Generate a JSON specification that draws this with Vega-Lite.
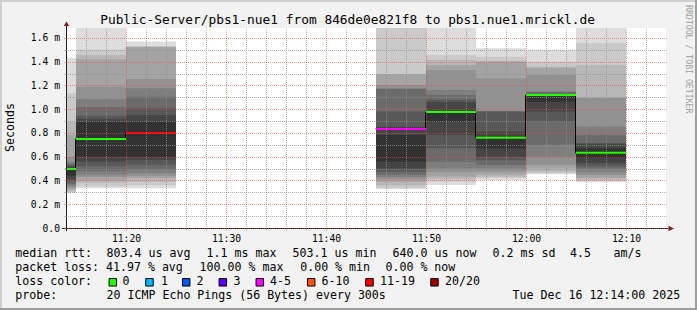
{
"$schema": "https://vega.github.io/schema/vega-lite/v6.json",
"width": 600,
"height": 200,
"autosize": "none",
"padding": {"left": 66, "top": 28, "right": 31, "bottom": 82},
"background": "#f2f2f2",
"config": {
  "view": {"stroke": null, "fill": "#ffffff"},
  "font": "DejaVu Sans Mono",
  "axis": {"labelFont": "DejaVu Sans Mono", "titleFont": "DejaVu Sans Mono", "labelColor": "#000000", "titleColor": "#000000"},
  "text": {"font": "DejaVu Sans Mono"}
},
"title": {"text": "Public-Server/pbs1-nue1 from 846de0e821f8 to pbs1.nue1.mrickl.de", "font": "DejaVu Sans Mono", "fontSize": 12.85, "fontWeight": "normal", "color": "#000000", "anchor": "middle", "frame": "group", "baseline": "alphabetic", "offset": -38, "dx": -18.4},
"datasets": {
  "smoke": [
    {"t":"2025-12-16T11:14:00Z","t2":"2025-12-16T11:15:00Z","b":1,"lo":0.292,"hi":1.434},
    {"t":"2025-12-16T11:14:00Z","t2":"2025-12-16T11:15:00Z","b":2,"lo":0.30,"hi":1.134},
    {"t":"2025-12-16T11:14:00Z","t2":"2025-12-16T11:15:00Z","b":3,"lo":0.31,"hi":0.895},
    {"t":"2025-12-16T11:14:00Z","t2":"2025-12-16T11:15:00Z","b":4,"lo":0.325,"hi":0.783},
    {"t":"2025-12-16T11:14:00Z","t2":"2025-12-16T11:15:00Z","b":5,"lo":0.34,"hi":0.60},
    {"t":"2025-12-16T11:14:00Z","t2":"2025-12-16T11:15:00Z","b":6,"lo":0.355,"hi":0.558},
    {"t":"2025-12-16T11:14:00Z","t2":"2025-12-16T11:15:00Z","b":7,"lo":0.37,"hi":0.54},
    {"t":"2025-12-16T11:14:00Z","t2":"2025-12-16T11:15:00Z","b":8,"lo":0.39,"hi":0.53},
    {"t":"2025-12-16T11:14:00Z","t2":"2025-12-16T11:15:00Z","b":9,"lo":0.41,"hi":0.515},
    {"t":"2025-12-16T11:14:00Z","t2":"2025-12-16T11:15:00Z","b":10,"lo":0.44,"hi":0.50},
    {"t":"2025-12-16T11:15:00Z","t2":"2025-12-16T11:20:00Z","b":1,"lo":0.335,"hi":1.75},
    {"t":"2025-12-16T11:15:00Z","t2":"2025-12-16T11:20:00Z","b":2,"lo":0.35,"hi":1.50},
    {"t":"2025-12-16T11:15:00Z","t2":"2025-12-16T11:20:00Z","b":3,"lo":0.38,"hi":1.457},
    {"t":"2025-12-16T11:15:00Z","t2":"2025-12-16T11:20:00Z","b":4,"lo":0.40,"hi":1.42},
    {"t":"2025-12-16T11:15:00Z","t2":"2025-12-16T11:20:00Z","b":5,"lo":0.43,"hi":1.19},
    {"t":"2025-12-16T11:15:00Z","t2":"2025-12-16T11:20:00Z","b":6,"lo":0.45,"hi":1.086},
    {"t":"2025-12-16T11:15:00Z","t2":"2025-12-16T11:20:00Z","b":7,"lo":0.48,"hi":1.016},
    {"t":"2025-12-16T11:15:00Z","t2":"2025-12-16T11:20:00Z","b":8,"lo":0.52,"hi":0.946},
    {"t":"2025-12-16T11:15:00Z","t2":"2025-12-16T11:20:00Z","b":9,"lo":0.56,"hi":0.92},
    {"t":"2025-12-16T11:15:00Z","t2":"2025-12-16T11:20:00Z","b":10,"lo":0.60,"hi":0.895},
    {"t":"2025-12-16T11:20:00Z","t2":"2025-12-16T11:25:00Z","b":1,"lo":0.335,"hi":1.57},
    {"t":"2025-12-16T11:20:00Z","t2":"2025-12-16T11:25:00Z","b":2,"lo":0.36,"hi":1.527},
    {"t":"2025-12-16T11:20:00Z","t2":"2025-12-16T11:25:00Z","b":3,"lo":0.39,"hi":1.527},
    {"t":"2025-12-16T11:20:00Z","t2":"2025-12-16T11:25:00Z","b":4,"lo":0.42,"hi":1.527},
    {"t":"2025-12-16T11:20:00Z","t2":"2025-12-16T11:25:00Z","b":5,"lo":0.44,"hi":1.255},
    {"t":"2025-12-16T11:20:00Z","t2":"2025-12-16T11:25:00Z","b":6,"lo":0.46,"hi":1.176},
    {"t":"2025-12-16T11:20:00Z","t2":"2025-12-16T11:25:00Z","b":7,"lo":0.49,"hi":1.106},
    {"t":"2025-12-16T11:20:00Z","t2":"2025-12-16T11:25:00Z","b":8,"lo":0.53,"hi":1.008},
    {"t":"2025-12-16T11:20:00Z","t2":"2025-12-16T11:25:00Z","b":9,"lo":0.575,"hi":0.95},
    {"t":"2025-12-16T11:20:00Z","t2":"2025-12-16T11:25:00Z","b":10,"lo":0.60,"hi":0.895},
    {"t":"2025-12-16T11:45:00Z","t2":"2025-12-16T11:50:00Z","b":1,"lo":0.33,"hi":1.75},
    {"t":"2025-12-16T11:45:00Z","t2":"2025-12-16T11:50:00Z","b":2,"lo":0.333,"hi":1.75},
    {"t":"2025-12-16T11:45:00Z","t2":"2025-12-16T11:50:00Z","b":3,"lo":0.36,"hi":1.294},
    {"t":"2025-12-16T11:45:00Z","t2":"2025-12-16T11:50:00Z","b":4,"lo":0.39,"hi":1.294},
    {"t":"2025-12-16T11:45:00Z","t2":"2025-12-16T11:50:00Z","b":5,"lo":0.41,"hi":1.204},
    {"t":"2025-12-16T11:45:00Z","t2":"2025-12-16T11:50:00Z","b":6,"lo":0.43,"hi":1.176},
    {"t":"2025-12-16T11:45:00Z","t2":"2025-12-16T11:50:00Z","b":7,"lo":0.45,"hi":1.17},
    {"t":"2025-12-16T11:45:00Z","t2":"2025-12-16T11:50:00Z","b":8,"lo":0.474,"hi":0.98},
    {"t":"2025-12-16T11:45:00Z","t2":"2025-12-16T11:50:00Z","b":9,"lo":0.50,"hi":0.853},
    {"t":"2025-12-16T11:45:00Z","t2":"2025-12-16T11:50:00Z","b":10,"lo":0.56,"hi":0.783},
    {"t":"2025-12-16T11:50:00Z","t2":"2025-12-16T11:55:00Z","b":1,"lo":0.362,"hi":1.75},
    {"t":"2025-12-16T11:50:00Z","t2":"2025-12-16T11:55:00Z","b":2,"lo":0.39,"hi":1.457},
    {"t":"2025-12-16T11:50:00Z","t2":"2025-12-16T11:55:00Z","b":3,"lo":0.41,"hi":1.415},
    {"t":"2025-12-16T11:50:00Z","t2":"2025-12-16T11:55:00Z","b":4,"lo":0.432,"hi":1.373},
    {"t":"2025-12-16T11:50:00Z","t2":"2025-12-16T11:55:00Z","b":5,"lo":0.47,"hi":1.33},
    {"t":"2025-12-16T11:50:00Z","t2":"2025-12-16T11:55:00Z","b":6,"lo":0.50,"hi":1.162},
    {"t":"2025-12-16T11:50:00Z","t2":"2025-12-16T11:55:00Z","b":7,"lo":0.558,"hi":1.12},
    {"t":"2025-12-16T11:50:00Z","t2":"2025-12-16T11:55:00Z","b":8,"lo":0.671,"hi":1.08},
    {"t":"2025-12-16T11:50:00Z","t2":"2025-12-16T11:55:00Z","b":9,"lo":0.783,"hi":1.06},
    {"t":"2025-12-16T11:50:00Z","t2":"2025-12-16T11:55:00Z","b":10,"lo":0.895,"hi":0.98},
    {"t":"2025-12-16T11:55:00Z","t2":"2025-12-16T12:00:00Z","b":1,"lo":0.404,"hi":1.513},
    {"t":"2025-12-16T11:55:00Z","t2":"2025-12-16T12:00:00Z","b":2,"lo":0.42,"hi":1.443},
    {"t":"2025-12-16T11:55:00Z","t2":"2025-12-16T12:00:00Z","b":3,"lo":0.432,"hi":1.406},
    {"t":"2025-12-16T11:55:00Z","t2":"2025-12-16T12:00:00Z","b":4,"lo":0.45,"hi":1.40},
    {"t":"2025-12-16T11:55:00Z","t2":"2025-12-16T12:00:00Z","b":5,"lo":0.474,"hi":1.26},
    {"t":"2025-12-16T11:55:00Z","t2":"2025-12-16T12:00:00Z","b":6,"lo":0.50,"hi":0.98},
    {"t":"2025-12-16T11:55:00Z","t2":"2025-12-16T12:00:00Z","b":7,"lo":0.53,"hi":0.98},
    {"t":"2025-12-16T11:55:00Z","t2":"2025-12-16T12:00:00Z","b":8,"lo":0.57,"hi":0.98},
    {"t":"2025-12-16T11:55:00Z","t2":"2025-12-16T12:00:00Z","b":9,"lo":0.60,"hi":0.81},
    {"t":"2025-12-16T11:55:00Z","t2":"2025-12-16T12:00:00Z","b":10,"lo":0.67,"hi":0.76},
    {"t":"2025-12-16T12:00:00Z","t2":"2025-12-16T12:05:00Z","b":1,"lo":0.452,"hi":1.50},
    {"t":"2025-12-16T12:00:00Z","t2":"2025-12-16T12:05:00Z","b":2,"lo":0.46,"hi":1.40},
    {"t":"2025-12-16T12:00:00Z","t2":"2025-12-16T12:05:00Z","b":3,"lo":0.474,"hi":1.358},
    {"t":"2025-12-16T12:00:00Z","t2":"2025-12-16T12:05:00Z","b":4,"lo":0.50,"hi":1.35},
    {"t":"2025-12-16T12:00:00Z","t2":"2025-12-16T12:05:00Z","b":5,"lo":0.53,"hi":1.288},
    {"t":"2025-12-16T12:00:00Z","t2":"2025-12-16T12:05:00Z","b":6,"lo":0.60,"hi":1.148},
    {"t":"2025-12-16T12:00:00Z","t2":"2025-12-16T12:05:00Z","b":7,"lo":0.70,"hi":1.148},
    {"t":"2025-12-16T12:00:00Z","t2":"2025-12-16T12:05:00Z","b":8,"lo":0.895,"hi":1.125},
    {"t":"2025-12-16T12:00:00Z","t2":"2025-12-16T12:05:00Z","b":9,"lo":0.98,"hi":1.12},
    {"t":"2025-12-16T12:00:00Z","t2":"2025-12-16T12:05:00Z","b":10,"lo":1.064,"hi":1.12},
    {"t":"2025-12-16T12:05:00Z","t2":"2025-12-16T12:10:00Z","b":1,"lo":0.385,"hi":1.75},
    {"t":"2025-12-16T12:05:00Z","t2":"2025-12-16T12:10:00Z","b":2,"lo":0.395,"hi":1.556},
    {"t":"2025-12-16T12:05:00Z","t2":"2025-12-16T12:10:00Z","b":3,"lo":0.404,"hi":1.373},
    {"t":"2025-12-16T12:05:00Z","t2":"2025-12-16T12:10:00Z","b":4,"lo":0.42,"hi":1.097},
    {"t":"2025-12-16T12:05:00Z","t2":"2025-12-16T12:10:00Z","b":5,"lo":0.446,"hi":1.095},
    {"t":"2025-12-16T12:05:00Z","t2":"2025-12-16T12:10:00Z","b":6,"lo":0.47,"hi":0.853},
    {"t":"2025-12-16T12:05:00Z","t2":"2025-12-16T12:10:00Z","b":7,"lo":0.50,"hi":0.783},
    {"t":"2025-12-16T12:05:00Z","t2":"2025-12-16T12:10:00Z","b":8,"lo":0.52,"hi":0.713},
    {"t":"2025-12-16T12:05:00Z","t2":"2025-12-16T12:10:00Z","b":9,"lo":0.545,"hi":0.71},
    {"t":"2025-12-16T12:05:00Z","t2":"2025-12-16T12:10:00Z","b":10,"lo":0.587,"hi":0.671}
  ],
  "steps": [
    {"t":"2025-12-16T11:14:00Z","m":0.497},
    {"t":"2025-12-16T11:15:00Z","m":0.749},
    {"t":"2025-12-16T11:20:00Z","m":0.80},
    {"t":"2025-12-16T11:25:00Z","m":0.80},
    {"t":"2025-12-16T11:35:00Z","m":null},
    {"t":"2025-12-16T11:45:00Z","m":0.834},
    {"t":"2025-12-16T11:50:00Z","m":0.977},
    {"t":"2025-12-16T11:55:00Z","m":0.76},
    {"t":"2025-12-16T12:00:00Z","m":1.12},
    {"t":"2025-12-16T12:05:00Z","m":0.634},
    {"t":"2025-12-16T12:10:00Z","m":0.634}
  ],
  "med": [
    {"t":"2025-12-16T11:14:00Z","t2":"2025-12-16T11:15:00Z","m":0.497,"loss":"0"},
    {"t":"2025-12-16T11:15:00Z","t2":"2025-12-16T11:20:00Z","m":0.749,"loss":"0"},
    {"t":"2025-12-16T11:20:00Z","t2":"2025-12-16T11:25:00Z","m":0.80,"loss":"11-19"},
    {"t":"2025-12-16T11:45:00Z","t2":"2025-12-16T11:50:00Z","m":0.834,"loss":"4-5"},
    {"t":"2025-12-16T11:50:00Z","t2":"2025-12-16T11:55:00Z","m":0.977,"loss":"0"},
    {"t":"2025-12-16T11:55:00Z","t2":"2025-12-16T12:00:00Z","m":0.76,"loss":"0"},
    {"t":"2025-12-16T12:00:00Z","t2":"2025-12-16T12:05:00Z","m":1.12,"loss":"0"},
    {"t":"2025-12-16T12:05:00Z","t2":"2025-12-16T12:10:00Z","m":0.634,"loss":"0"}
  ],
  "notes": [
    {"t":"2025-12-16T11:08:55.800Z","v":-0.2467,"s":"median rtt:"},
    {"t":"2025-12-16T11:18:03.600Z","v":-0.2467,"s":"803.4 us avg"},
    {"t":"2025-12-16T11:28:03.600Z","v":-0.2467,"s":"1.1 ms max"},
    {"t":"2025-12-16T11:36:39.600Z","v":-0.2467,"s":"503.1 us min"},
    {"t":"2025-12-16T11:46:39.600Z","v":-0.2467,"s":"640.0 us now"},
    {"t":"2025-12-16T11:56:39.600Z","v":-0.2467,"s":"0.2 ms sd"},
    {"t":"2025-12-16T12:04:24.000Z","v":-0.2467,"s":"4.5"},
    {"t":"2025-12-16T12:08:45.600Z","v":-0.2467,"s":"am/s"},
    {"t":"2025-12-16T11:08:55.800Z","v":-0.3646,"s":"packet loss: 41.97 % avg"},
    {"t":"2025-12-16T11:27:21.600Z","v":-0.3646,"s":"100.00 % max"},
    {"t":"2025-12-16T11:37:25.200Z","v":-0.3646,"s":"0.00 % min"},
    {"t":"2025-12-16T11:45:57.000Z","v":-0.3646,"s":"0.00 % now"},
    {"t":"2025-12-16T11:08:55.800Z","v":-0.4825,"s":"loss color:"},
    {"t":"2025-12-16T11:08:55.800Z","v":-0.6004,"s":"probe:"},
    {"t":"2025-12-16T11:18:03.600Z","v":-0.6004,"s":"20 ICMP Echo Pings (56 Bytes) every 300s"},
    {"t":"2025-12-16T11:58:39.600Z","v":-0.6004,"s":"Tue Dec 16 12:14:00 2025"}
  ],
  "losslegend": [
    {"loss":"0","tb":"2025-12-16T11:18:40.800Z","tl":"2025-12-16T11:19:39.600Z"},
    {"loss":"1","tb":"2025-12-16T11:22:21.000Z","tl":"2025-12-16T11:23:30.000Z"},
    {"loss":"2","tb":"2025-12-16T11:26:01.200Z","tl":"2025-12-16T11:27:03.600Z"},
    {"loss":"3","tb":"2025-12-16T11:29:40.800Z","tl":"2025-12-16T11:30:45.600Z"},
    {"loss":"4-5","tb":"2025-12-16T11:33:22.800Z","tl":"2025-12-16T11:34:24.000Z"},
    {"loss":"6-10","tb":"2025-12-16T11:38:31.200Z","tl":"2025-12-16T11:39:33.600Z"},
    {"loss":"11-19","tb":"2025-12-16T11:44:21.000Z","tl":"2025-12-16T11:45:24.000Z"},
    {"loss":"20/20","tb":"2025-12-16T11:50:51.000Z","tl":"2025-12-16T11:51:54.000Z"}
  ]
},
"resolve": {"axis": {"x": "independent", "y": "independent"}, "scale": {"fill": "independent", "stroke": "independent"}},
"layer": [
  {
    "data": {"name": "smoke"},
    "mark": {"type": "rect", "clip": true},
    "encoding": {
      "x": {"field": "t", "type": "temporal", "scale": {"type": "utc", "domain": [1765883640000, 1765887240000]},
        "axis": {"orient": "bottom", "values": [1765883760000,1765883880000,1765884120000,1765884240000,1765884360000,1765884480000,1765884720000,1765884840000,1765884960000,1765885080000,1765885320000,1765885440000,1765885560000,1765885680000,1765885920000,1765886040000,1765886160000,1765886280000,1765886520000,1765886640000,1765886760000,1765886880000,1765887120000],
          "grid": true, "gridColor": "#8f8f8f", "gridOpacity": 0.75, "gridDash": [1,1], "gridDashOffset": 0.5, "labels": false, "ticks": true, "tickSize": 2, "tickColor": "#8f8f8f", "tickOpacity": 0.75, "domain": false, "title": null, "zindex": 1}},
      "x2": {"field": "t2"},
      "y": {"field": "lo", "type": "quantitative", "scale": {"domain": [0, 1.6842], "nice": false, "zero": false},
        "axis": {"orient": "left", "values": [0.1,0.3,0.5,0.7,0.9,1.1,1.3,1.5], "grid": true, "gridColor": "#8f8f8f", "gridOpacity": 0.75, "gridDash": [1,1], "gridDashOffset": 0.5, "labels": false, "ticks": true, "tickSize": 2, "tickColor": "#8f8f8f", "tickOpacity": 0.75, "domain": false, "title": null, "zindex": 1}},
      "y2": {"field": "hi"},
      "fill": {"field": "b", "type": "ordinal", "scale": {"domain": [1,2,3,4,5,6,7,8,9,10], "range": ["#dddddd","#cacaca","#b7b7b7","#a4a4a4","#919191","#7e7e7e","#6b6b6b","#585858","#454545","#323232"]}, "legend": null}
    }
  },
  {
    "data": {"name": "steps"},
    "mark": {"type": "line", "interpolate": "step-after", "color": "#000000", "strokeWidth": 1, "invalid": "break-paths-filter-domains", "xOffset": -0.5},
    "encoding": {
      "x": {"field": "t", "type": "temporal",
        "axis": {"orient": "bottom", "values": [1765884000000,1765884600000,1765885200000,1765885800000,1765886400000,1765887000000],
          "grid": true, "gridColor": "#de4f4f", "gridOpacity": 0.6, "gridDash": [1,1], "gridDashOffset": 0.5, "ticks": true, "tickSize": 2, "tickColor": "#de4f4f", "tickOpacity": 0.6, "domain": false,
          "labelExpr": "utcFormat(datum.value, '%H:%M')", "labelFontSize": 9.7, "labelPadding": 11, "labelBaseline": "alphabetic", "labelFlush": false, "labelOverlap": false, "title": null, "zindex": 1}},
      "y": {"field": "m", "type": "quantitative",
        "axis": {"orient": "left", "values": [0,0.2,0.4,0.6,0.8,1.0,1.2,1.4,1.6], "grid": true, "gridColor": "#de4f4f", "gridOpacity": 0.6, "gridDash": [1,1], "gridDashOffset": 0.5, "ticks": true, "tickSize": 2, "tickColor": "#de4f4f", "tickOpacity": 0.6, "domain": false,
          "labelExpr": "datum.value == 0 ? '0.0' : format(datum.value, '.1f') + ' m'", "labelFontSize": 9.7, "labelPadding": 4.5, "labelBaseline": "middle", "labelFlush": false, "labelOverlap": false,
          "title": "Seconds", "titleFontSize": 11.6, "titleFontWeight": "normal", "titleAngle": -90, "titleX": -56, "titleY": 99, "titleAlign": "center", "titleBaseline": "middle", "zindex": 1}}
    }
  },
  {
    "data": {"name": "med"},
    "mark": {"type": "rule", "strokeWidth": 2},
    "encoding": {
      "x": {"field": "t", "type": "temporal", "axis": null},
      "x2": {"field": "t2"},
      "y": {"field": "m", "type": "quantitative", "axis": null},
      "stroke": {"field": "loss", "type": "nominal", "scale": {"domain": ["0","1","2","3","4-5","6-10","11-19","20/20"], "range": ["#26ff00","#00b8ff","#0059ff","#5e00ff","#ff00ff","#ff5500","#ff0000","#a00000"]}, "legend": null}
    }
  },
  {
    "data": {"values": [{}]},
    "mark": {"type": "rule", "color": "#1f1f1f", "strokeWidth": 1, "yOffset": 0.5},
    "encoding": {
      "x": {"datum": 1765883616000, "type": "temporal", "axis": null},
      "x2": {"datum": 1765887252000},
      "y": {"datum": 0, "type": "quantitative", "axis": null}
    }
  },
  {
    "data": {"values": [{}]},
    "mark": {"type": "rule", "color": "#1f1f1f", "strokeWidth": 1, "xOffset": 0.5},
    "encoding": {
      "x": {"datum": 1765883640000, "type": "temporal", "axis": null},
      "y": {"datum": -0.025, "type": "quantitative", "axis": null},
      "y2": {"datum": 1.7347}
    }
  },
  {
    "data": {"values": [{}]},
    "mark": {"type": "point", "shape": "M-1,0.8L0,-0.8L1,0.8Z", "size": 30, "filled": true, "color": "#7f1f1f", "opacity": 1, "xOffset": 0.5},
    "encoding": {
      "x": {"datum": 1765883640000, "type": "temporal", "axis": null},
      "y": {"datum": 1.7196, "type": "quantitative", "axis": null}
    }
  },
  {
    "data": {"values": [{}]},
    "mark": {"type": "point", "shape": "M-1,-1L1,0L-1,1Z", "size": 30, "filled": true, "color": "#7f1f1f", "opacity": 1, "yOffset": 0.5},
    "encoding": {
      "x": {"datum": 1765887271200, "type": "temporal", "axis": null},
      "y": {"datum": 0, "type": "quantitative", "axis": null}
    }
  },
  {
    "data": {"name": "notes"},
    "mark": {"type": "text", "align": "left", "baseline": "alphabetic", "fontSize": 11.6, "font": "DejaVu Sans Mono", "color": "#000000"},
    "encoding": {
      "x": {"field": "t", "type": "temporal", "axis": null},
      "y": {"field": "v", "type": "quantitative", "axis": null},
      "text": {"field": "s"}
    }
  },
  {
    "data": {"name": "losslegend"},
    "mark": {"type": "point", "shape": "square", "size": 56, "filled": true, "stroke": "#000000", "strokeWidth": 1, "opacity": 1},
    "encoding": {
      "x": {"field": "tb", "type": "temporal", "axis": null},
      "y": {"datum": -0.4573, "type": "quantitative", "axis": null},
      "fill": {"field": "loss", "type": "nominal", "scale": {"domain": ["0","1","2","3","4-5","6-10","11-19","20/20"], "range": ["#26ff00","#00b8ff","#0059ff","#5e00ff","#ff00ff","#ff5500","#ff0000","#a00000"]}, "legend": null}
    }
  },
  {
    "data": {"name": "losslegend"},
    "mark": {"type": "text", "align": "left", "baseline": "alphabetic", "fontSize": 11.6, "font": "DejaVu Sans Mono", "color": "#000000"},
    "encoding": {
      "x": {"field": "tl", "type": "temporal", "axis": null},
      "y": {"datum": -0.4825, "type": "quantitative", "axis": null},
      "text": {"field": "loss"}
    }
  },
  {
    "data": {"values": [{}]},
    "mark": {"type": "text", "angle": 90, "align": "left", "baseline": "middle", "fontSize": 8.2, "font": "DejaVu Sans Mono", "color": "#a0a0a0", "text": "RRDTOOL / TOBI OETIKER"},
    "encoding": {
      "x": {"datum": 1765887369000, "type": "temporal", "axis": null},
      "y": {"datum": 1.8779, "type": "quantitative", "axis": null}
    }
  },
  {
    "data": {"values": [{}]},
    "mark": {"type": "rule", "color": "#cfcfcf", "strokeWidth": 2},
    "encoding": {
      "x": {"datum": 1765883244000, "type": "temporal", "axis": null},
      "x2": {"datum": 1765887426000},
      "y": {"datum": 1.9116, "type": "quantitative", "axis": null}
    }
  },
  {
    "data": {"values": [{}]},
    "mark": {"type": "rule", "color": "#cfcfcf", "strokeWidth": 2},
    "encoding": {
      "x": {"datum": 1765883250000, "type": "temporal", "axis": null},
      "y": {"datum": 1.92, "type": "quantitative", "axis": null},
      "y2": {"datum": -0.6905}
    }
  },
  {
    "data": {"values": [{}]},
    "mark": {"type": "rule", "color": "#9e9e9e", "strokeWidth": 2},
    "encoding": {
      "x": {"datum": 1765887420000, "type": "temporal", "axis": null},
      "y": {"datum": 1.92, "type": "quantitative", "axis": null},
      "y2": {"datum": -0.6905}
    }
  },
  {
    "data": {"values": [{}]},
    "mark": {"type": "rule", "color": "#9e9e9e", "strokeWidth": 2},
    "encoding": {
      "x": {"datum": 1765883244000, "type": "temporal", "axis": null},
      "x2": {"datum": 1765887426000},
      "y": {"datum": -0.6821, "type": "quantitative", "axis": null}
    }
  }
]
}
